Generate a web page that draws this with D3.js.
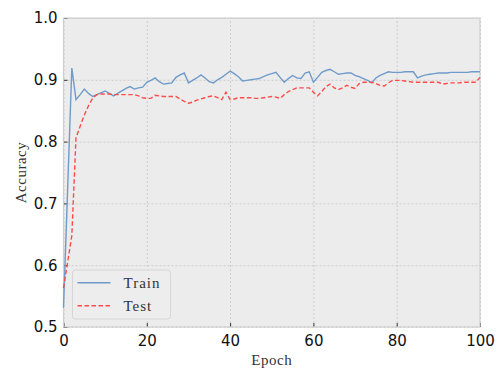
<!DOCTYPE html>
<html>
<head>
<meta charset="utf-8">
<script src="https://cdn.jsdelivr.net/npm/d3@7"></script>
<style>
  body { margin: 0; background: #fff; }
  .tick text { font-family: "DejaVu Sans", sans-serif; font-size: 15px; fill: #111; }
  .grid line { stroke: #c4c4c4; stroke-dasharray: 2,2; stroke-width: 0.8; }
  .lbl { font-family: "Liberation Serif", serif; font-size: 15px; fill: #333; }
</style>
</head>
<body>
<div id="chart"></div>
<script>
// accuracy per epoch
var epochs = d3.range(0, 101);

var train = [0.531, 0.725, 0.919, 0.868, 0.876, 0.885, 0.878, 0.873, 0.876, 0.879,
  0.882, 0.878, 0.874, 0.878, 0.882, 0.886, 0.889, 0.885, 0.887, 0.888,
  0.896, 0.899, 0.903, 0.897, 0.893, 0.894, 0.895, 0.904, 0.908, 0.911,
  0.895, 0.899, 0.903, 0.908, 0.903, 0.897, 0.895, 0.900, 0.904, 0.909,
  0.914, 0.910, 0.905, 0.898, 0.899, 0.900, 0.901, 0.902, 0.905, 0.908,
  0.910, 0.912, 0.904, 0.896, 0.902, 0.907, 0.903, 0.902, 0.911, 0.913,
  0.896, 0.904, 0.912, 0.915, 0.917, 0.913, 0.909, 0.910, 0.911, 0.911,
  0.907, 0.905, 0.902, 0.899, 0.895, 0.903, 0.907, 0.910, 0.913, 0.912,
  0.912, 0.912, 0.913, 0.913, 0.913, 0.903, 0.906, 0.908, 0.909, 0.910,
  0.911, 0.911, 0.911, 0.912, 0.912, 0.912, 0.912, 0.912, 0.913, 0.913,
  0.913];

var test = [0.563, 0.605, 0.648, 0.806, 0.825, 0.843, 0.858, 0.870, 0.876, 0.877,
  0.877, 0.877, 0.876, 0.876, 0.876, 0.876, 0.876, 0.876, 0.874, 0.871,
  0.870, 0.870, 0.875, 0.874, 0.873, 0.873, 0.873, 0.873, 0.869, 0.865,
  0.862, 0.864, 0.867, 0.869, 0.871, 0.873, 0.874, 0.871, 0.868, 0.880,
  0.868, 0.869, 0.871, 0.871, 0.871, 0.871, 0.870, 0.870, 0.871, 0.872,
  0.873, 0.872, 0.870, 0.876, 0.881, 0.884, 0.887, 0.887, 0.887, 0.887,
  0.880, 0.874, 0.881, 0.889, 0.893, 0.887, 0.884, 0.887, 0.891, 0.888,
  0.886, 0.894, 0.896, 0.896, 0.896, 0.894, 0.891, 0.890, 0.895, 0.899,
  0.899, 0.899, 0.898, 0.897, 0.896, 0.896, 0.896, 0.896, 0.896, 0.896,
  0.896, 0.893, 0.894, 0.895, 0.895, 0.895, 0.896, 0.896, 0.896, 0.896,
  0.904];

var xTicks = [0, 20, 40, 60, 80, 100];
var yTicks = [0.5, 0.6, 0.7, 0.8, 0.9, 1.0];

var margin = {top: 18, right: 22, bottom: 42, left: 63.5},
    width = 502 - margin.left - margin.right,
    height = 369 - margin.top - margin.bottom;

var x = d3.scaleLinear().domain([0, 100]).range([0, width]);
var y = d3.scaleLinear().domain([0.5, 1.0]).range([height, 0]);

var svg = d3.select("#chart").append("svg")
    .attr("width", 502)
    .attr("height", 369)
  .append("g")
    .attr("transform", "translate(" + margin.left + "," + margin.top + ")");

// grey panel
svg.append("rect")
    .attr("width", width)
    .attr("height", height)
    .attr("fill", "#ececec");

// grid
svg.append("g")
    .attr("class", "grid")
    .call(d3.axisLeft(y).tickValues(yTicks).tickSize(-width).tickFormat(""))
    .call(function(g) { g.select(".domain").remove(); });

svg.append("g")
    .attr("class", "grid")
    .attr("transform", "translate(0," + height + ")")
    .call(d3.axisBottom(x).tickValues(xTicks).tickSize(-height).tickFormat(""))
    .call(function(g) { g.select(".domain").remove(); });

// axes with inward ticks
var xAxis = svg.append("g")
    .attr("transform", "translate(0," + height + ")")
    .call(d3.axisBottom(x).tickValues(xTicks).tickSizeInner(-4).tickSizeOuter(0).tickPadding(8));
xAxis.select(".domain").remove();
xAxis.selectAll(".tick line").attr("stroke", "#333");

var yAxis = svg.append("g")
    .call(d3.axisLeft(y).tickValues(yTicks).tickSizeInner(-4).tickSizeOuter(0).tickPadding(6)
      .tickFormat(d3.format(".1f")));
yAxis.select(".domain").remove();
yAxis.selectAll(".tick line").attr("stroke", "#333");

// frame
svg.append("rect")
    .attr("width", width)
    .attr("height", height)
    .attr("fill", "none")
    .attr("stroke", "#cfcfcf")
    .attr("stroke-width", 1.2);

var line = d3.line()
    .x(function(d, i) { return x(epochs[i]); })
    .y(function(d) { return y(d); });

svg.append("path")
    .datum(train)
    .attr("fill", "none")
    .attr("stroke", "#6f9bca")
    .attr("stroke-width", 1.4)
    .attr("d", line);

svg.append("path")
    .datum(test)
    .attr("fill", "none")
    .attr("stroke", "#ff4a4a")
    .attr("stroke-width", 1.4)
    .attr("stroke-dasharray", "4.5,2.5")
    .attr("d", line);

// axis labels
svg.append("text")
    .attr("class", "lbl")
    .attr("x", width / 2)
    .attr("y", height + 38)
    .attr("text-anchor", "middle")
    .attr("letter-spacing", "0.5px")
    .text("Epoch");

svg.append("text")
    .attr("class", "lbl")
    .attr("transform", "translate(" + (-38) + "," + (height / 2) + ") rotate(-90)")
    .attr("text-anchor", "middle")
    .attr("letter-spacing", "0.5px")
    .text("Accuracy");

// legend
var legend = svg.append("g")
    .attr("transform", "translate(9," + (height - 57) + ")");

legend.append("rect")
    .attr("width", 98)
    .attr("height", 49)
    .attr("rx", 3)
    .attr("fill", "#ededed")
    .attr("stroke", "#d6d6d6");

var items = [
  {name: "Train", color: "#6f9bca", dash: null},
  {name: "Test", color: "#ff4a4a", dash: "4.5,2.5"}
];

items.forEach(function(it, i) {
  var yy = 12.7 + i * 23;
  legend.append("line")
      .attr("x1", 5).attr("x2", 38)
      .attr("y1", yy).attr("y2", yy)
      .attr("stroke", it.color)
      .attr("stroke-width", 1.4)
      .attr("stroke-dasharray", it.dash);
  legend.append("text")
      .attr("class", "lbl")
      .attr("x", 51)
      .attr("y", yy + 5)
      .attr("font-size", "16px")
      .attr("letter-spacing", "1px")
      .text(it.name);
});
</script>
</body>
</html>
